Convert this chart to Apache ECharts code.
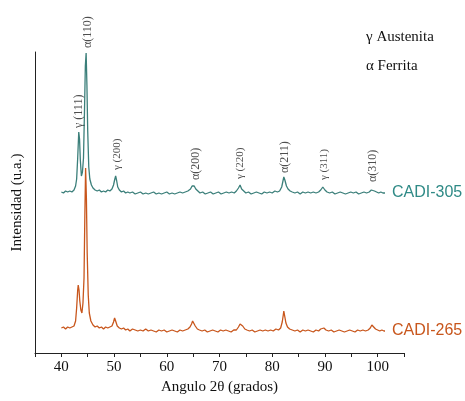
<!DOCTYPE html>
<html>
<head>
<meta charset="utf-8">
<script src="https://cdn.jsdelivr.net/npm/echarts@6/dist/echarts.min.js"></script>
<style>
  html, body { margin: 0; padding: 0; background: #fff; }
  #chart { width: 465px; height: 401px; }
</style>
</head>
<body>
<div id="chart"></div>
<script>
// difractogramas, intensidad en u.a. (desplazadas)
var cadi305 = [
  [40.0,161],[40.4,160],[40.8,162],[41.2,161],[41.6,162],[42.0,161],[42.4,163],[42.7,167],[42.9,174],[43.1,195],
  [43.3,221],[43.45,214],[43.6,193],[43.8,177],[44.0,181],[44.2,195],[44.4,245],[44.55,287],[44.7,300],[44.85,268],
  [45.0,222],[45.2,186],[45.4,174],[45.7,168],[46.0,165],[46.4,163],[46.8,162],[47.2,163],[47.6,161],[48.0,162],
  [48.4,161],[48.8,163],[49.2,162],[49.6,164],[49.9,168],[50.1,173],[50.3,177],[50.5,172],[50.7,166],[51.0,163],
  [51.4,161],[51.8,162],[52.2,160],[52.6,161],[53.0,160],[53.5,161],[54.0,159],[54.5,160],[55.0,161],[55.5,159],
  [56.0,160],[56.5,159],[57.0,160],[57.5,161],[58.0,159],[58.5,160],[59.0,159],[59.5,160],[60.0,161],[60.5,159],
  [61.0,160],[61.5,159],[62.0,160],[62.5,161],[63.0,160],[63.5,161],[64.0,162],[64.5,164],[64.8,167],[65.0,169],
  [65.2,167],[65.5,164],[65.9,162],[66.3,160],[66.8,161],[67.3,159],[67.8,160],[68.3,161],[68.8,159],[69.3,160],
  [69.8,161],[70.3,159],[70.8,160],[71.3,161],[71.8,160],[72.3,161],[72.8,160],[73.2,162],[73.6,165],[73.9,168],
  [74.2,164],[74.6,162],[75.0,160],[75.5,161],[76.0,159],[76.5,160],[77.0,161],[77.5,160],[78.0,159],[78.5,161],
  [79.0,160],[79.5,161],[80.0,160],[80.5,162],[81.0,161],[81.4,162],[81.8,166],[82.0,171],[82.2,176],[82.4,173],
  [82.7,167],[83.0,164],[83.4,162],[83.8,161],[84.3,160],[84.8,161],[85.3,159],[85.8,161],[86.3,160],[86.8,161],
  [87.3,160],[87.8,161],[88.3,160],[88.8,161],[89.2,163],[89.6,166],[90.0,163],[90.4,161],[90.9,160],[91.4,161],
  [91.9,159],[92.4,160],[92.9,161],[93.4,160],[93.9,159],[94.4,160],[94.9,161],[95.4,160],[95.9,161],[96.4,159],
  [96.9,160],[97.4,161],[97.9,160],[98.4,161],[98.8,163],[99.1,165],[99.4,162],[99.8,161],[100.2,160],[100.6,161],
  [101.0,160],[101.4,160]
];
var cadi265 = [
  [40.0,25],[40.4,26],[40.8,24],[41.2,26],[41.6,25],[42.0,26],[42.4,27],[42.7,32],[42.9,45],[43.1,63],
  [43.2,68],[43.35,63],[43.5,52],[43.7,43],[43.9,40],[44.1,50],[44.3,75],[44.45,135],[44.6,185],[44.75,155],
  [44.9,100],[45.1,58],[45.3,40],[45.6,32],[46.0,28],[46.4,26],[46.8,27],[47.2,25],[47.6,26],[48.0,24],
  [48.4,26],[48.8,25],[49.2,26],[49.6,27],[49.9,31],[50.1,35],[50.3,32],[50.6,27],[51.0,25],[51.4,24],
  [51.8,25],[52.2,23],[52.6,24],[53.0,22],[53.5,24],[54.0,23],[54.5,22],[55.0,23],[55.5,22],[56.0,24],
  [56.5,22],[57.0,23],[57.5,22],[58.0,21],[58.5,23],[59.0,22],[59.5,23],[60.0,21],[60.5,22],[61.0,23],
  [61.5,22],[62.0,21],[62.5,23],[63.0,22],[63.5,23],[64.0,24],[64.4,26],[64.7,29],[64.9,32],[65.1,31],
  [65.4,27],[65.8,24],[66.2,23],[66.7,22],[67.2,23],[67.7,21],[68.2,22],[68.7,23],[69.2,22],[69.7,21],
  [70.2,23],[70.7,22],[71.2,23],[71.7,22],[72.2,21],[72.7,23],[73.2,23],[73.6,26],[73.9,29],[74.1,30],
  [74.4,27],[74.8,24],[75.2,23],[75.7,22],[76.2,23],[76.7,21],[77.2,22],[77.7,23],[78.2,22],[78.7,23],
  [79.2,22],[79.7,23],[80.2,22],[80.7,24],[81.2,23],[81.6,25],[81.9,31],[82.1,38],[82.2,42],[82.4,36],
  [82.6,30],[82.9,26],[83.3,24],[83.8,23],[84.3,22],[84.8,23],[85.3,21],[85.8,23],[86.3,22],[86.8,23],
  [87.3,22],[87.8,21],[88.3,23],[88.8,22],[89.2,24],[89.5,26],[89.8,25],[90.2,23],[90.7,22],[91.2,23],
  [91.7,21],[92.2,22],[92.7,23],[93.2,22],[93.7,21],[94.2,22],[94.7,23],[95.2,22],[95.7,21],[96.2,23],
  [96.7,22],[97.2,23],[97.7,22],[98.2,23],[98.6,25],[98.9,28],[99.2,26],[99.6,24],[100.0,23],[100.4,22],
  [100.8,23],[101.2,22],[101.4,22]
];

// indexacion de picos (posicion del pie del texto)
var peakText = ['γ (111)', 'α(110)', 'γ (200)', 'α(200)', 'γ (220)', 'α(211)', 'γ (311)', 'α(310)'];
var peakX = [43.3, 45.0, 50.5, 65.6, 73.9, 82.4, 89.8, 99.1];
var peakY = [225, 305, 183, 173, 174, 180, 173, 171];

var phaseText = ['γ Austenita', 'α Ferrita'];

var xTicks = [40, 50, 60, 70, 80, 90, 100];

var serif = '"Liberation Serif", "DejaVu Serif", serif';
var teal = '#3b7f7a';
var orange = '#c8561c';

var myChart = echarts.init(document.getElementById('chart'));

var labelData = peakText.map(function (t, i) {
    var big = t.charAt(0) === 'α' || i === 0;
    return {
        value: [peakX[i], peakY[i]],
        name: t,
        label: { fontSize: big ? 12 : 11 }
    };
});

myChart.setOption({
    animation: false,
    backgroundColor: '#fff',
    grid: { left: 35, right: 61, top: 52, bottom: 48 },
    xAxis: {
        type: 'value',
        min: 35,
        max: 105,
        interval: 5,
        name: 'Angulo 2θ (grados)',
        nameLocation: 'middle',
        nameGap: 25,
        nameTextStyle: { fontFamily: serif, fontSize: 15, color: '#111' },
        axisLine: { lineStyle: { color: '#222', width: 1 } },
        axisTick: { length: 4, lineStyle: { color: '#222' } },
        axisLabel: {
            margin: 7,
            fontFamily: serif,
            fontSize: 15,
            color: '#111',
            formatter: function (v) { return xTicks.indexOf(v) >= 0 ? v : ''; }
        },
        splitLine: { show: false }
    },
    yAxis: {
        type: 'value',
        min: 0,
        max: 301,
        name: 'Intensidad (u.a.)',
        nameLocation: 'middle',
        nameGap: 10,
        nameTextStyle: { fontFamily: serif, fontSize: 15, color: '#111' },
        axisLine: { show: true, lineStyle: { color: '#222', width: 1 } },
        axisTick: { show: false },
        axisLabel: { show: false },
        splitLine: { show: false }
    },
    graphic: phaseText.map(function (t, i) {
        return {
            type: 'text',
            left: 366,
            top: 30 + i * 29,
            style: { text: t, font: '15px ' + serif, fill: '#111' }
        };
    }),
    series: [
        {
            type: 'line',
            name: 'CADI-265',
            data: cadi265,
            symbol: 'none',
            lineStyle: { color: orange, width: 1.3 },
            itemStyle: { color: orange },
            endLabel: {
                show: true,
                formatter: '{a}',
                distance: 7,
                color: orange,
                fontFamily: '"Liberation Sans", Arial, sans-serif',
                fontSize: 16
            }
        },
        {
            type: 'line',
            name: 'CADI-305',
            data: cadi305,
            symbol: 'none',
            lineStyle: { color: teal, width: 1.3 },
            itemStyle: { color: teal },
            endLabel: {
                show: true,
                formatter: '{a}',
                distance: 7,
                color: '#2f8a86',
                fontFamily: '"Liberation Sans", Arial, sans-serif',
                fontSize: 16
            }
        },
        {
            type: 'scatter',
            name: 'picos',
            data: labelData,
            symbolSize: 0,
            clip: false,
            silent: true,
            label: {
                show: true,
                formatter: '{b}',
                position: [0, 0],
                rotate: 90,
                align: 'left',
                verticalAlign: 'middle',
                fontFamily: serif,
                color: '#222'
            }
        }
    ]
});
</script>
</body>
</html>
